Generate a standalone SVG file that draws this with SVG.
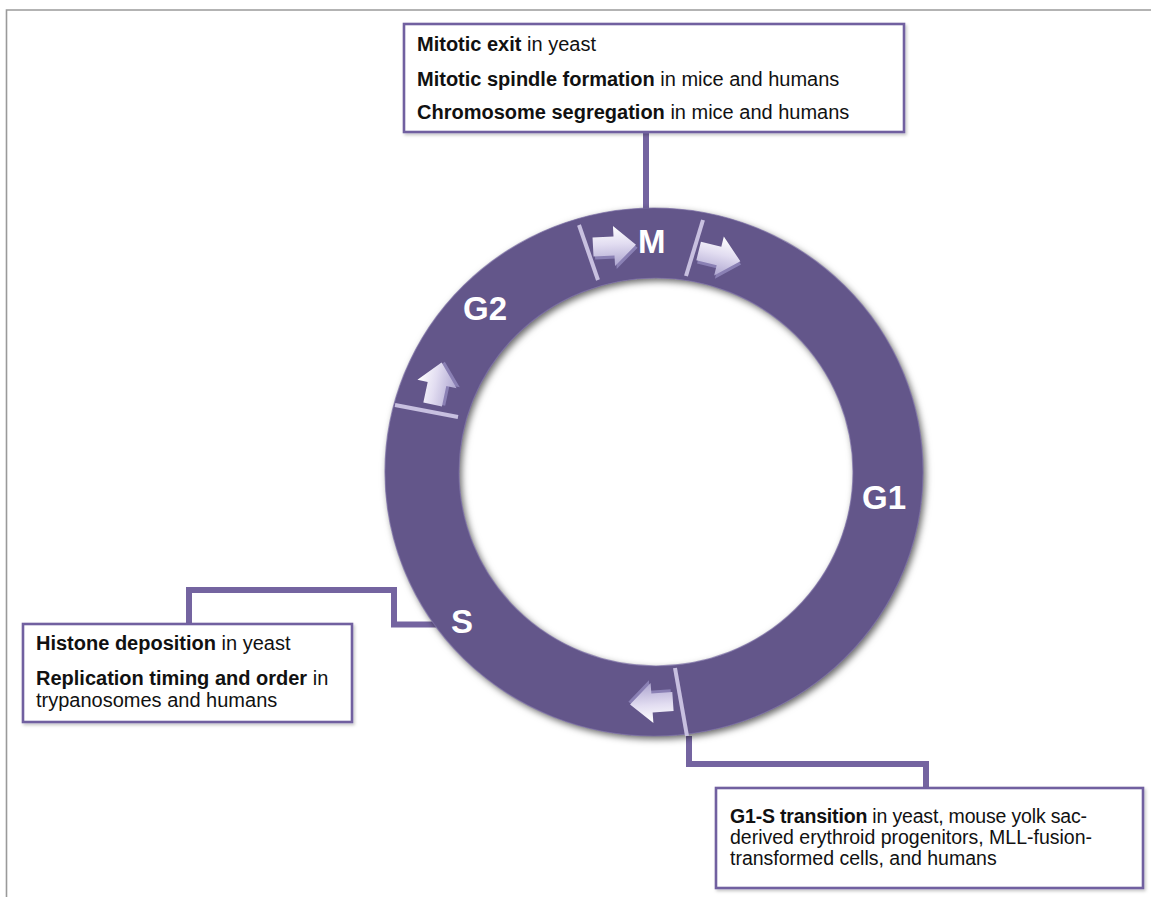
<svg xmlns="http://www.w3.org/2000/svg" xmlns:xlink="http://www.w3.org/1999/xlink" width="1151" height="897" viewBox="0 0 1151 897">
<style>
.frame{stroke:#9a9a9a;stroke-width:1.6;fill:none}
.box{fill:#ffffff;stroke:#7161a0;stroke-width:2.6}
.conn{fill:none;stroke:#7464a0;stroke-width:6;stroke-linejoin:miter}
.sep{stroke:#c8c0e0;stroke-width:4;stroke-linecap:butt}
.txt{font-family:"Liberation Sans",Arial,Helvetica,sans-serif;font-size:20px;fill:#111111}
.txt2{font-family:"Liberation Sans",Arial,Helvetica,sans-serif;font-size:19.5px;fill:#111111}
.b{font-weight:bold}
.phase{font-family:"Liberation Sans",Arial,Helvetica,sans-serif;font-size:33px;font-weight:bold;fill:#ffffff}
</style>
<defs>
<filter id="ringShadow" x="-10%" y="-10%" width="120%" height="120%">
<feDropShadow dx="2.5" dy="3" stdDeviation="3.5" flood-color="#000000" flood-opacity="0.6"/>
</filter>
<filter id="boxShadow" x="-5%" y="-5%" width="110%" height="115%">
<feDropShadow dx="1.5" dy="2" stdDeviation="1.5" flood-color="#000000" flood-opacity="0.22"/>
</filter>
<linearGradient id="arrFace" x1="0" y1="0" x2="0" y2="1">
<stop offset="0" stop-color="#ffffff"/>
<stop offset="0.45" stop-color="#e2ddf1"/>
<stop offset="1" stop-color="#aea6d0"/>
</linearGradient>
<g id="arr">
<polygon points="-21,-9.5 0,-9.5 0,-20 22,0 0,20 0,9.5 -21,9.5" fill="#8a80b4" transform="translate(1.5,3)"/>
<polygon points="-21,-9.5 0,-9.5 0,-20 22,0 0,20 0,9.5 -21,9.5" fill="url(#arrFace)"/>
</g>
</defs>

<rect width="1151" height="897" fill="#ffffff"/>
<path class="frame" d="M6.5,897 V10 H1151"/>

<g id="connectors">
<path class="conn" d="M646,132 V212"/>
<path class="conn" d="M189,624 V590 H394 V624.5 H436"/>
<path class="conn" d="M689,736 V764 H926 V788"/>
</g>

<g id="cycle">
<path d="M385,472 a269,264 0 1,0 538,0 a269,264 0 1,0 -538,0 Z M459,472 a197,194 0 1,0 394,0 a197,194 0 1,0 -394,0 Z" fill="#63568a" fill-rule="evenodd" filter="url(#ringShadow)"/>
<path d="M385,472 a269,264 0 1,0 538,0 a269,264 0 1,0 -538,0 Z M459,472 a197,194 0 1,0 394,0 a197,194 0 1,0 -394,0 Z" fill="none" stroke="#7a6ea4" stroke-width="1.2" stroke-opacity="0.7"/>
<line class="sep" x1="579" y1="225" x2="598" y2="280"/>
<line class="sep" x1="703" y1="220" x2="686" y2="276"/>
<line class="sep" x1="395" y1="405" x2="458" y2="417"/>
<line class="sep" x1="675" y1="668" x2="687" y2="736"/>
<use xlink:href="#arr" href="#arr" transform="translate(614,246) rotate(-3)"/>
<use xlink:href="#arr" href="#arr" transform="translate(719,256) rotate(14)"/>
<use xlink:href="#arr" href="#arr" transform="translate(437,384) rotate(-78)"/>
<use xlink:href="#arr" href="#arr" transform="translate(652,703) rotate(176)"/>
</g>

<g id="label-M"><text class="phase" x="638" y="253">M</text></g>
<g id="label-G2"><text class="phase" x="463" y="320">G2</text></g>
<g id="label-G1"><text class="phase" x="862" y="509">G1</text></g>
<g id="label-S"><text class="phase" x="451" y="633">S</text></g>

<g id="box-M">
<rect class="box" x="404" y="24" width="500" height="108" filter="url(#boxShadow)"/>
<text class="txt" x="417" y="51"><tspan class="b">Mitotic exit</tspan> in yeast</text>
<text class="txt" x="417" y="86"><tspan class="b">Mitotic spindle formation</tspan> in mice and humans</text>
<text class="txt" x="417" y="119"><tspan class="b">Chromosome segregation</tspan> in mice and humans</text>
</g>

<g id="box-S">
<rect class="box" x="23" y="624" width="329" height="98" filter="url(#boxShadow)"/>
<text class="txt" x="36" y="650"><tspan class="b">Histone deposition</tspan> in yeast</text>
<text class="txt" x="36" y="685"><tspan class="b">Replication timing and order</tspan> in</text>
<text class="txt" x="36" y="707">trypanosomes and humans</text>
</g>

<g id="box-G1S">
<rect class="box" x="716" y="788" width="427" height="100" filter="url(#boxShadow)"/>
<text class="txt2" x="730" y="823" textLength="357" lengthAdjust="spacing"><tspan class="b">G1-S transition</tspan> in yeast, mouse yolk sac-</text>
<text class="txt2" x="730" y="844">derived erythroid progenitors, MLL-fusion-</text>
<text class="txt2" x="730" y="865">transformed cells, and humans</text>
</g>
</svg>
